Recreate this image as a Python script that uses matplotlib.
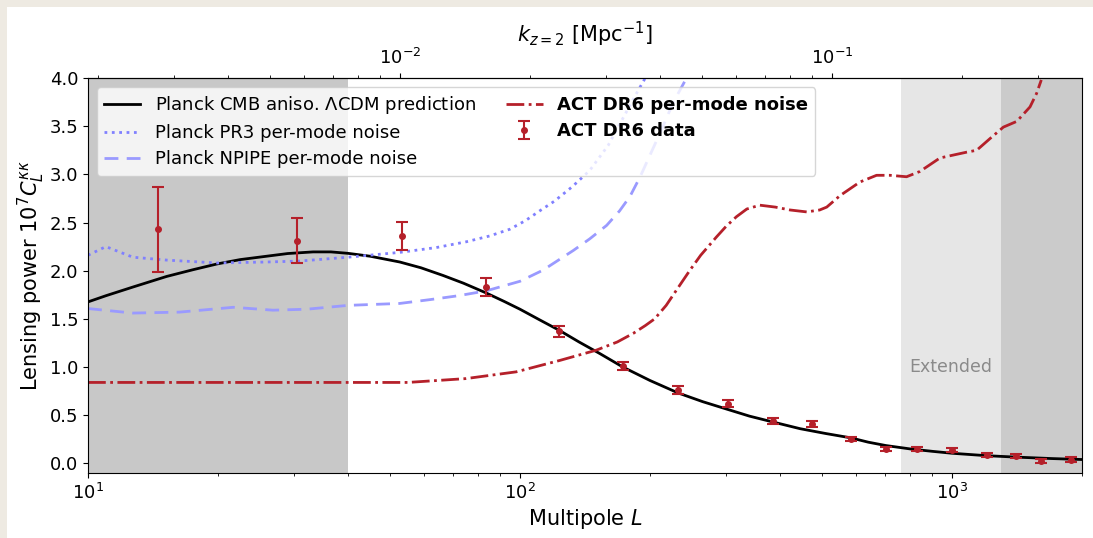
import numpy as np
import matplotlib
matplotlib.use('Agg')
import matplotlib.pyplot as plt
from matplotlib.patches import Rectangle

# theory curve (Planck LCDM)
th_L = [10, 11, 12.7, 15.2, 17.5, 19.9, 22.5, 25.9, 29, 33.2, 36.5, 40, 45, 52.7, 59, 66.4, 74,
        83.4, 92, 100, 111, 123.4, 137, 153, 173, 200, 232.6, 265, 302.6, 340, 384.6, 445, 510,
        583, 640, 703, 800, 900, 1000, 1200, 1406, 1700, 2000]
th_C = [1.676, 1.74, 1.83, 1.94, 2.01, 2.07, 2.115, 2.15, 2.178, 2.195, 2.195, 2.18, 2.15, 2.09,
        2.03, 1.95, 1.87, 1.77, 1.68, 1.60, 1.49, 1.38, 1.26, 1.14, 1.00, 0.86, 0.73, 0.64, 0.56,
        0.49, 0.43, 0.36, 0.31, 0.265, 0.22, 0.185, 0.15, 0.125, 0.105, 0.08, 0.065, 0.05, 0.04]

# Planck PR3 per-mode noise
pr3_L = [10, 11.0, 12.7, 15.2, 19.9, 25.9, 30.9, 40, 52.7, 64, 75.1, 85, 94.7, 103, 111, 120,
         132, 145, 160, 173, 185, 195]
pr3_N = [2.16, 2.25, 2.14, 2.11, 2.08, 2.09, 2.10, 2.14, 2.19, 2.24, 2.30, 2.36, 2.43, 2.52,
         2.62, 2.72, 2.87, 3.04, 3.30, 3.58, 3.82, 4.0]

# Planck NPIPE per-mode noise
np_L = [10, 12.7, 16.3, 21.7, 26.8, 32.1, 40, 52.7, 62, 72, 83.4, 100, 113, 132.9, 145, 158.7,
        170, 179.7, 190, 200, 213, 226, 243]
np_N = [1.607, 1.56, 1.57, 1.62, 1.59, 1.60, 1.64, 1.66, 1.70, 1.74, 1.79, 1.89, 2.005, 2.21,
        2.33, 2.47, 2.62, 2.77, 2.98, 3.20, 3.47, 3.74, 4.0]

# ACT DR6 per-mode noise
act_L = [10, 55, 75, 98, 124, 150, 168, 183, 195, 205, 218, 232, 247, 262, 285, 300, 317, 335,
         359, 390, 422, 461, 494, 513, 551, 612, 669, 719, 785, 843, 938, 1081, 1141, 1224, 1315,
         1413, 1516, 1570, 1610]
act_N = [0.84, 0.84, 0.88, 0.95, 1.07, 1.174, 1.26, 1.35, 1.43, 1.50, 1.64, 1.82, 2.0, 2.16,
         2.35, 2.46, 2.56, 2.64, 2.68, 2.66, 2.63, 2.61, 2.63, 2.66, 2.78, 2.92, 2.99, 2.99,
         2.975, 3.03, 3.17, 3.23, 3.25, 3.37, 3.49, 3.55, 3.70, 3.84, 3.98]

# ACT DR6 bandpowers
d_L = [14.5, 30.4, 53.2, 83.4, 123.4, 172.9, 232.6, 302.6, 384.6, 475, 583, 703, 832, 1001,
       1207, 1406, 1604, 1882]
d_C = [2.43, 2.31, 2.36, 1.83, 1.37, 1.01, 0.76, 0.62, 0.44, 0.41, 0.25, 0.15, 0.15, 0.14,
       0.09, 0.08, 0.025, 0.04]
d_err = [0.44, 0.235, 0.145, 0.09, 0.06, 0.045, 0.04, 0.035, 0.03, 0.028, 0.022, 0.022, 0.02,
         0.022, 0.02, 0.022, 0.022, 0.022]

red = '#b5202a'
blue = '#8080ff'

fig = plt.figure(figsize=(10.93, 5.38), dpi=100)
fig.patch.set_facecolor('#eeeae2')
fig.patches.append(Rectangle((7/1093, 0), 1, 1 - 7/538, transform=fig.transFigure,
                             facecolor='white', edgecolor='none', zorder=-10))
ax = fig.add_axes([88/1093, 1 - 473/538, (1082 - 88)/1093, (473 - 78)/538])
ax.set_zorder(1)

ax.axvspan(10, 40, color='#c8c8c8', lw=0, zorder=0)
ax.axvspan(763, 1300, color='#e6e6e6', lw=0, zorder=0)
ax.axvspan(1300, 2000, color='#cbcbcb', lw=0, zorder=0)
ax.text(996, 1.0, 'Extended', color='#8a8a8a', ha='center', va='center', fontsize=12.5)

ax.plot(th_L, th_C, color='k', lw=2, label=r'Planck CMB aniso. $\Lambda$CDM prediction')
ax.plot(pr3_L, pr3_N, color=blue, lw=2, ls=':', label='Planck PR3 per-mode noise')
ax.plot(np_L, np_N, color='#9a9aff', lw=2, ls='--', dashes=(5, 3), label='Planck NPIPE per-mode noise')
ax.plot(act_L, act_N, color=red, lw=2, ls='-.', label='ACT DR6 per-mode noise')
ax.errorbar(d_L, d_C, yerr=d_err, fmt='o', color=red, ms=4, lw=1.5, capsize=4, capthick=1.5,
            label='ACT DR6 data')

ax.set_xscale('log')
ax.set_xlim(10, 2000)
ax.set_ylim(-0.1, 4.0)
ax.set_yticks([0, 0.5, 1.0, 1.5, 2.0, 2.5, 3.0, 3.5, 4.0])
ax.tick_params(labelsize=13)
ax.set_xlabel(r'Multipole $L$', fontsize=15, labelpad=3)
ax.set_ylabel(r'Lensing power $10^7 C_L^{\kappa\kappa}$', fontsize=15, labelpad=2)

chi = 5270.0
sec = ax.secondary_xaxis('top', functions=(lambda L: L / chi, lambda k: k * chi))
sec.set_xlabel(r'$k_{z=2}$ [Mpc$^{-1}$]', fontsize=15, labelpad=4)
sec.tick_params(labelsize=13)

leg = ax.legend(loc='upper left', ncol=2, fontsize=13, columnspacing=1.7, labelspacing=0.45,
                borderaxespad=0.5)
for t in leg.get_texts()[3:]:
    t.set_fontweight('bold')

fig.savefig('out.png', dpi=100, facecolor=fig.get_facecolor())
